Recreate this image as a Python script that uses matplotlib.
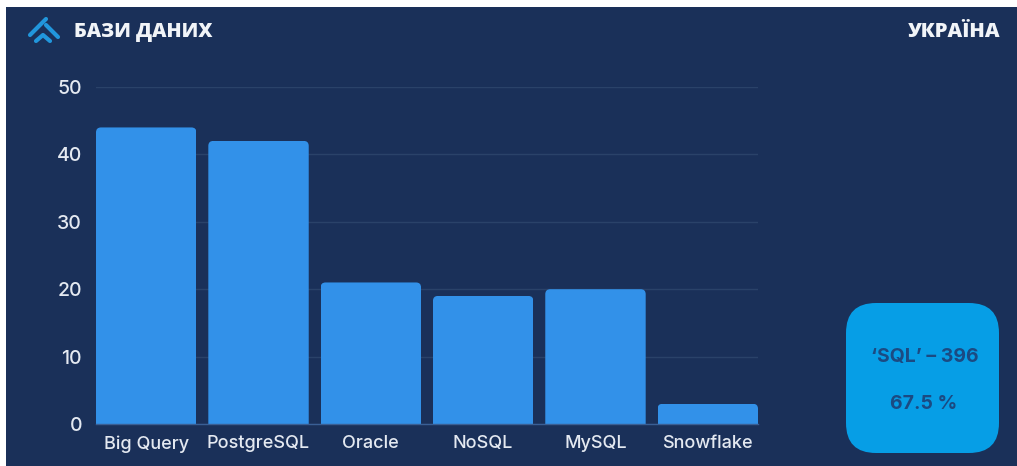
#!/usr/bin/env python3
"""Databases bar chart on a dark panel, with a stat card at the right."""

import matplotlib
matplotlib.use("Agg")
import matplotlib.pyplot as plt
from matplotlib.patches import FancyBboxPatch, Rectangle
from matplotlib.path import Path

W, H = 1017, 466

categories = ["Big Query", "PostgreSQL", "Oracle", "NoSQL", "MySQL", "Snowflake"]
counts = [44, 42, 21, 19, 20, 3]
y_ticks = [0, 10, 20, 30, 40, 50]

NAVY = "#1a3059"
BAR = "#3291e9"
CARD = "#069ee6"
CARD_TEXT = "#1b4a82"
GRID = "#2a4269"
LABEL = "#e4e9f1"
ICON = "#2196dc"
BAR_WIDTH = 0.894

plt.rcParams["font.family"] = ["Inter", "DejaVu Sans"]

fig = plt.figure(figsize=(W / 100, H / 100), dpi=100, facecolor="white")

# pixel-coordinate layer for the panel, icon, headings and card
bg = fig.add_axes([0, 0, 1, 1])
bg.set_xlim(0, W)
bg.set_ylim(H, 0)
bg.axis("off")
bg.add_patch(Rectangle((6, 7), W - 6, H - 7, color=NAVY, lw=0))

# icon: long stroke, right stroke and a short bottom chevron
bg.plot([30, 46], [35, 19], color=ICON, lw=3, solid_capstyle="round")
bg.plot([46, 58], [25, 37], color=ICON, lw=3, solid_capstyle="round")
bg.plot([36, 43, 50], [41, 35, 41], color=ICON, lw=3, solid_capstyle="round")

bg.text(74, 32, "БАЗИ ДАНИХ", color="#f1f4f8", fontsize=14.2, fontweight="heavy",
        family=["Open Sans", "DejaVu Sans"], va="center", ha="left")
bg.text(1000, 32, "УКРАЇНА", color="#f1f4f8", fontsize=14.6, fontweight="heavy",
        family=["Open Sans", "DejaVu Sans"], va="center", ha="right")

bg.add_patch(FancyBboxPatch((870, 327), 105, 102,
                            boxstyle="round,pad=24,rounding_size=30",
                            fc=CARD, ec="none"))
bg.text(925, 357, "‘SQL’ – 396", color=CARD_TEXT, fontsize=14, fontweight="bold",
        ha="center", va="center")
bg.text(924, 404, "67.5 %", color=CARD_TEXT, fontsize=14, fontweight="bold",
        ha="center", va="center")

# chart axes, spanning 96..758 px across and 424..87 px down
ax = fig.add_axes([96 / W, 1 - 424 / H, 662 / W, 337 / H])
ax.patch.set_alpha(0)
x = list(range(len(categories)))
bars = ax.bar(x, counts, BAR_WIDTH, color=BAR, zorder=2)

# round the top corners of each bar by clipping it
rx = 5 / 662 * (len(categories) - 1 + BAR_WIDTH)
ry = 5 / 337 * 50
for bar in bars:
    x0, x1, h = bar.get_x(), bar.get_x() + bar.get_width(), bar.get_height()
    verts = [(x0, 0), (x0, h - ry), (x0, h), (x0 + rx, h), (x1 - rx, h),
             (x1, h), (x1, h - ry), (x1, 0), (x0, 0)]
    codes = [Path.MOVETO, Path.LINETO, Path.CURVE3, Path.CURVE3, Path.LINETO,
             Path.CURVE3, Path.CURVE3, Path.LINETO, Path.CLOSEPOLY]
    bar.set_clip_path(Path(verts, codes), ax.transData)

ax.set_xlim(-BAR_WIDTH / 2, len(categories) - 1 + BAR_WIDTH / 2)
ax.set_ylim(0, 50)
ax.set_yticks(y_ticks)
ax.set_xticks(x)
ax.set_xticklabels(categories, fontweight="medium")
ax.set_yticklabels([str(v) for v in y_ticks], fontweight="medium")
ax.grid(axis="y", color=GRID, lw=1, zorder=0)
ax.set_axisbelow(True)
ax.tick_params(axis="y", length=0, pad=10, labelsize=14, labelcolor=LABEL)
ax.tick_params(axis="x", length=0, pad=8, labelsize=13, labelcolor=LABEL)
for side in ["top", "right", "left"]:
    ax.spines[side].set_visible(False)
ax.spines["bottom"].set_color("#3a5f95")
ax.spines["bottom"].set_linewidth(1)

fig.savefig("out.png", dpi=100, facecolor="white")
